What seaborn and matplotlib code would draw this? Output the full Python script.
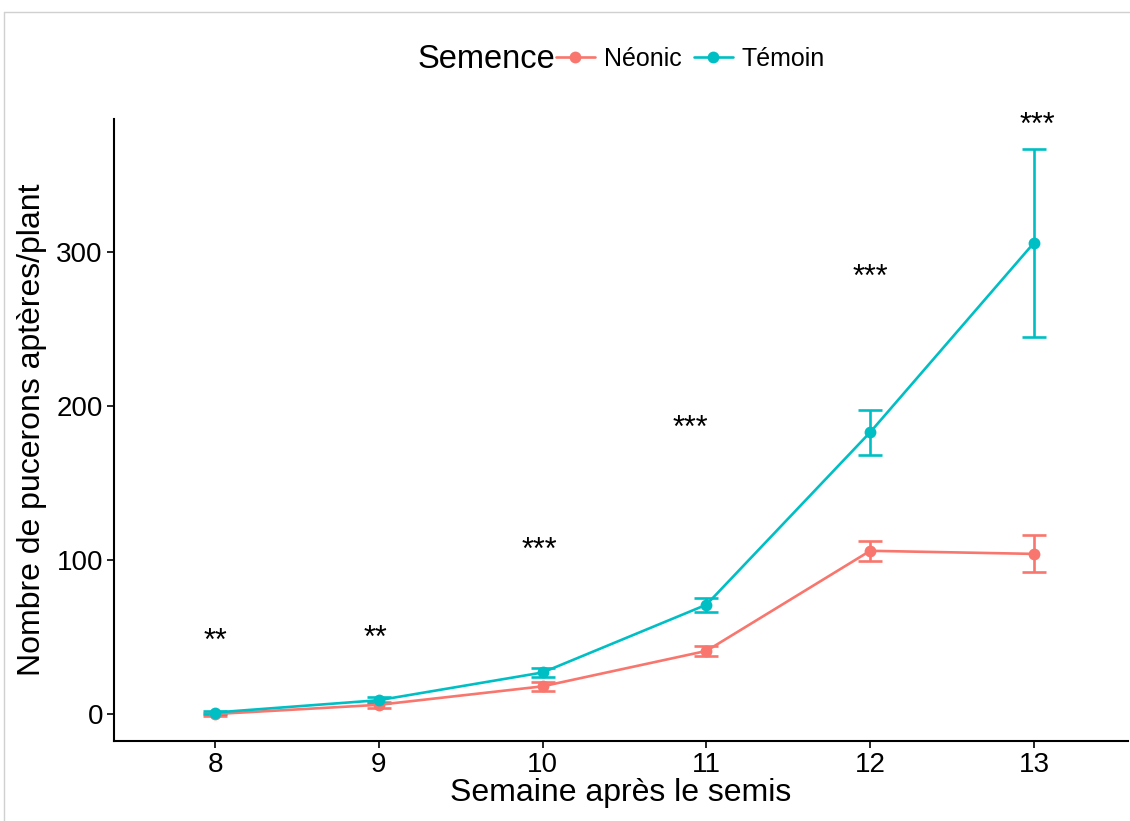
import matplotlib
matplotlib.use("Agg")
import matplotlib.pyplot as plt
import seaborn as sns
import pandas as pd
from matplotlib.lines import Line2D

weeks = [8, 9, 10, 11, 12, 13]
neonic_mean = [0, 6, 18, 41, 106, 104]
neonic_se = [1, 2, 3, 3.5, 6.5, 12]
temoin_mean = [1, 9, 27, 71, 183, 306]
temoin_se = [1, 2, 3, 4.5, 14.5, 61]
stars = ["**", "**", "***", "***", "***", "***"]
star_x = [8.0, 8.98, 9.98, 10.9, 12.0, 13.02]
star_y = [47, 49, 106, 185, 283, 382]
groups = ["Néonic", "Témoin"]
colors = ["#F8766D", "#00BFC4"]

df = pd.DataFrame({
    "Semaine": weeks * 2,
    "Nombre": neonic_mean + temoin_mean,
    "se": neonic_se + temoin_se,
    "Semence": [groups[0]] * len(weeks) + [groups[1]] * len(weeks),
})

sns.set_theme(style="white")
plt.rcParams["font.family"] = ["Liberation Sans", "DejaVu Sans"]

fig = plt.figure(figsize=(11.3, 8.21), dpi=100)
ax = fig.add_axes([114 / 1130, 80 / 821, (1128 - 114) / 1130, (741 - 119) / 821])

pal = dict(zip(groups, colors))
sns.lineplot(data=df, x="Semaine", y="Nombre", hue="Semence", palette=pal,
             marker="o", markersize=8.5, markeredgewidth=0, linewidth=1.9,
             ax=ax, legend=False, errorbar=None)
for g, c in zip(groups, colors):
    sub = df[df["Semence"] == g]
    ax.errorbar(sub["Semaine"], sub["Nombre"], yerr=sub["se"], fmt="none",
                ecolor=c, elinewidth=1.9, capsize=8.5, capthick=1.9, zorder=1)

for x, s, y in zip(star_x, stars, star_y):
    ax.text(x, y, s, ha="center", va="center", fontsize=22, color="black")

ax.set_xlim(7.383, 13.574)
ax.set_ylim(-17.5, 386.4)
ax.set_xticks(weeks)
ax.set_xticklabels([str(w) for w in weeks])
ax.set_yticks([0, 100, 200, 300])
ax.tick_params(axis="both", which="both", length=5, width=1.2, color="black",
               labelsize=20, labelcolor="black", bottom=True, left=True, pad=3)
for side in ["top", "right"]:
    ax.spines[side].set_visible(False)
for side in ["left", "bottom"]:
    ax.spines[side].set_color("black")
    ax.spines[side].set_linewidth(1.5)
ax.set_xlabel("Semaine après le semis", fontsize=23, color="black", labelpad=0)
ax.set_ylabel("Nombre de pucerons aptères/plant", fontsize=23, color="black", labelpad=7)

# legend
fig.text(418 / 1130, 1 - 59 / 821, "Semence", fontsize=23.5, ha="left", va="center", color="black")
handles = [Line2D([0], [0], color=c, marker="o", markersize=8.5, markeredgewidth=0, linewidth=1.9)
           for c in colors]
fig.legend(handles, groups, loc="center left", bbox_to_anchor=(556 / 1130, 1 - 59 / 821),
           ncol=2, frameon=False, fontsize=18, handlelength=1.55, handletextpad=0.35,
           columnspacing=0.5, borderpad=0, borderaxespad=0, labelcolor="black")

# thin grey frame edges (top and left)
fig.add_artist(Line2D([4 / 1130, 1], [1 - 12 / 821, 1 - 12 / 821], color="#d0d0d0", linewidth=1,
                      transform=fig.transFigure))
fig.add_artist(Line2D([4 / 1130, 4 / 1130], [0, 1 - 12 / 821], color="#d0d0d0", linewidth=1,
                      transform=fig.transFigure))

fig.savefig("out.png", dpi=100)
